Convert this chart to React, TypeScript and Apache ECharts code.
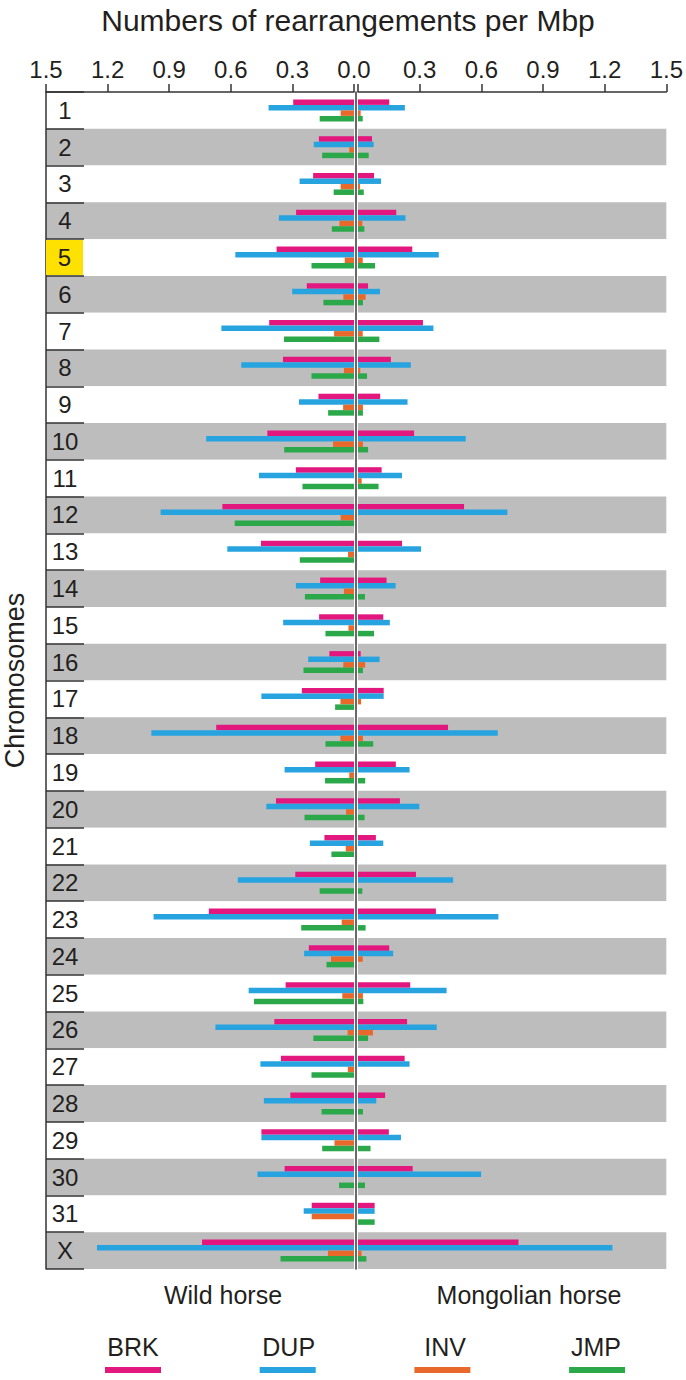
import React, { useEffect, useRef } from 'react';
import * as echarts from 'echarts';

const chromosomes = ['1','2','3','4','5','6','7','8','9','10','11','12','13','14','15','16','17','18','19','20','21','22','23','24','25','26','27','28','29','30','31','X'];
const typeNames = ['BRK', 'DUP', 'INV', 'JMP'];
const axisTicks = [0, 0.3, 0.6, 0.9, 1.2, 1.5];

// Wild horse (left side)
const wildBRK = [0.296,0.171,0.199,0.282,0.377,0.23,0.413,0.346,0.173,0.422,0.283,0.641,0.453,0.165,0.17,0.12,0.254,0.671,0.189,0.38,0.144,0.286,0.707,0.22,0.333,0.388,0.356,0.31,0.451,0.338,0.206,0.74];
const wildDUP = [0.416,0.196,0.265,0.366,0.578,0.301,0.646,0.549,0.268,0.72,0.463,0.942,0.617,0.283,0.345,0.223,0.451,0.987,0.338,0.427,0.215,0.566,0.976,0.243,0.513,0.675,0.456,0.439,0.451,0.47,0.245,1.252];
const wildINV = [0.065,0.023,0.065,0.071,0.045,0.052,0.097,0.049,0.053,0.102,0,0.065,0.029,0.049,0.027,0.052,0.066,0.066,0.023,0.039,0.04,0,0.06,0.112,0.057,0.031,0.03,0,0.095,0,0.206,0.127];
const wildJMP = [0.167,0.155,0.099,0.108,0.207,0.149,0.341,0.207,0.126,0.34,0.251,0.581,0.264,0.239,0.139,0.246,0.092,0.139,0.141,0.241,0.11,0.167,0.257,0.134,0.487,0.198,0.207,0.158,0.155,0.073,0,0.358];

// Mongolian horse (right side)
const mongBRK = [0.152,0.068,0.078,0.186,0.264,0.049,0.316,0.16,0.108,0.273,0.115,0.516,0.214,0.139,0.123,0.013,0.125,0.438,0.184,0.204,0.087,0.282,0.379,0.152,0.254,0.239,0.227,0.132,0.15,0.266,0.081,0.781];
const mongDUP = [0.228,0.076,0.112,0.231,0.393,0.107,0.367,0.257,0.241,0.524,0.214,0.727,0.307,0.183,0.155,0.105,0.125,0.68,0.251,0.298,0.123,0.463,0.683,0.171,0.431,0.383,0.251,0.089,0.209,0.599,0.081,1.238];
const mongINV = [0.013,0,0.01,0.021,0.023,0.037,0.023,0.011,0.024,0.024,0.018,0,0,0,0,0.035,0.015,0.024,0,0,0,0,0,0.023,0.024,0.073,0,0,0,0,0,0.017];
const mongJMP = [0.023,0.052,0.028,0.031,0.083,0.024,0.104,0.044,0.024,0.049,0.1,0,0,0.034,0.078,0.024,0,0.074,0.035,0.032,0,0.021,0.037,0,0.026,0.049,0,0.024,0.061,0.034,0.081,0.041];

const highlighted = '5';

const COLORS = ['#E2187F', '#27A4DF', '#E8692B', '#2BA84A'];
const FONT = '"Liberation Sans", Arial, sans-serif';
const TEXT = '#231f20';
const BAND = ['#ffffff', '#bdbdbe'];

export default function App() {
  const ref = useRef<HTMLDivElement>(null);
  useEffect(() => {
    const chart = echarts.init(ref.current as HTMLDivElement, null, { renderer: 'svg' });
    const wild = [wildBRK, wildDUP, wildINV, wildJMP];
    const mong = [mongBRK, mongDUP, mongINV, mongJMP];
    const gridTop = 92;
    const gridH = 1177;
    const series: any[] = [];
    typeNames.forEach((n, i) => {
      series.push({
        name: n, type: 'bar', xAxisIndex: 0, yAxisIndex: 0, data: wild[i],
        barWidth: 5.5, barGap: '0%', itemStyle: { color: COLORS[i] }, z: 3,
      });
    });
    typeNames.forEach((n, i) => {
      series.push({
        name: n, type: 'bar', xAxisIndex: 1, yAxisIndex: 1, data: mong[i],
        barWidth: 5.5, barGap: '0%', itemStyle: { color: COLORS[i] }, z: 3,
      });
    });
    const xBase = {
      type: 'value', min: 0, max: 1.5, interval: 0.3, position: 'top',
      axisLine: { show: true, onZero: false, lineStyle: { color: '#333', width: 1.5 } },
      axisTick: { show: true, length: 8, inside: false, lineStyle: { color: '#333', width: 1.5 } },
      splitLine: { show: false },
    };
    const option: any = {
      animation: false,
      backgroundColor: '#ffffff',
      textStyle: { fontFamily: FONT },
      title: [
        { text: 'Numbers of rearrangements per Mbp', left: 343, textAlign: 'center', top: 0,
          textStyle: { fontSize: 30, fontWeight: 'normal', color: TEXT, fontFamily: FONT } },
        { text: 'Wild horse', left: 218, textAlign: 'center', top: 1277,
          textStyle: { fontSize: 25, fontWeight: 'normal', color: TEXT, fontFamily: FONT } },
        { text: 'Mongolian horse', left: 524, textAlign: 'center', top: 1277,
          textStyle: { fontSize: 25, fontWeight: 'normal', color: TEXT, fontFamily: FONT } },
      ],
      legend: [
        {
          data: typeNames, top: 1367, left: 105, padding: 0, itemWidth: 56, itemHeight: 6, itemGap: 98.7,
          icon: 'rect', selectedMode: false, formatter: () => '',
          textStyle: { fontSize: 6 },
        },
        {
          data: typeNames, top: 1334, left: 100, padding: 0, itemWidth: 0, itemHeight: 6, itemGap: 97,
          icon: 'none', selectedMode: false,
          formatter: (name: string) => `{c|${name}}`,
          textStyle: {
            color: TEXT, fontFamily: FONT, fontSize: 25,
            rich: { c: { width: 56, align: 'center', fontSize: 25, color: TEXT, fontFamily: FONT } },
          },
        },
      ],
      grid: [
        { left: 45, top: gridTop, width: 309, height: gridH },
        { left: 358, top: gridTop, width: 309, height: gridH },
      ],
      xAxis: [
        { ...xBase, gridIndex: 0, inverse: true,
          axisLabel: { formatter: (v: number) => v.toFixed(1), fontSize: 24, color: TEXT, margin: 11,
            fontFamily: FONT, showMinLabel: true, showMaxLabel: true, customValues: axisTicks } },
        { ...xBase, gridIndex: 1,
          axisLabel: { formatter: (v: number) => (v === 0 ? '' : v.toFixed(1)), fontSize: 24, color: TEXT,
            margin: 11, fontFamily: FONT, showMinLabel: true, showMaxLabel: true, customValues: axisTicks } },
      ],
      yAxis: [
        {
          type: 'category', gridIndex: 0, data: chromosomes, inverse: true, position: 'left',
          name: 'Chromosomes', nameLocation: 'middle', nameRotate: 90, nameGap: 18,
          nameTextStyle: { fontSize: 27, color: TEXT, fontFamily: FONT },
          axisLine: { show: true, onZero: false, lineStyle: { color: '#333', width: 1.5 } },
          axisTick: { show: true, inside: true, length: 38, lineStyle: { color: '#333', width: 1.5 } },
          axisLabel: {
            inside: true, margin: 0, interval: 0,
            formatter: (v: string) => (v === highlighted ? `{hl|${v}}` : `{n|${v}}`),
            rich: {
              n: { width: 38, height: 34, align: 'center', fontSize: 24, color: TEXT, fontFamily: FONT },
              hl: { width: 37, height: 35, align: 'center', fontSize: 24, color: TEXT, fontFamily: FONT,
                backgroundColor: '#FFE100' },
            },
          },
          splitLine: { show: false },
          splitArea: { show: true, interval: 0, areaStyle: { color: BAND } },
        },
        {
          type: 'category', gridIndex: 1, data: chromosomes, inverse: true, position: 'left', offset: 2.5,
          axisLine: { show: true, onZero: false, lineStyle: { color: '#444', width: 1.6 } },
          axisTick: { show: false },
          axisLabel: { show: false },
          splitLine: { show: false },
          splitArea: { show: true, interval: 0, areaStyle: { color: BAND } },
        },
      ],
      series,
    };
    chart.setOption(option);
    return () => chart.dispose();
  }, []);
  return (
    <div
      ref={ref}
      style={{ position: 'fixed', left: 0, top: 0, width: 686, height: 1380, background: '#fff' }}
    />
  );
}
